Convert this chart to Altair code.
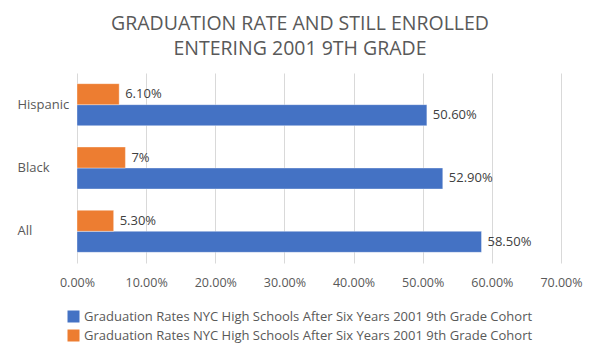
import altair as alt
import pandas as pd

# ---- data ----
groups = ["Hispanic", "Black", "All"]
grad_rate = [0.506, 0.529, 0.585]
still_enrolled = [0.061, 0.07, 0.053]
grad_labels = ["50.60%", "52.90%", "58.50%"]
still_labels = ["6.10%", "7%", "5.30%"]
series_name = "Graduation Rates NYC High Schools After Six Years 2001 9th Grade Cohort"
blue_key = series_name
orange_key = series_name + " "  # same visible text, distinct series
colors = ["#4472C4", "#ED7D31"]
title_lines = ["GRADUATION RATE AND STILL ENROLLED", "ENTERING 2001 9TH GRADE"]

rows = []
for g, v, l in zip(groups, grad_rate, grad_labels):
    rows.append({"group": g, "series": blue_key, "value": v, "label": l})
for g, v, l in zip(groups, still_enrolled, still_labels):
    rows.append({"group": g, "series": orange_key, "value": v, "label": l})
df = pd.DataFrame(rows)

FONT = "Open Sans"
GREY = "#595959"

y_enc = alt.Y("group:N", sort=groups,
              scale=alt.Scale(paddingInner=0.337, paddingOuter=0.1685),
              axis=alt.Axis(title=None, domain=False, ticks=False, labelAlign="left",
                            labelPadding=60, labelFontSize=13, labelColor=GREY,
                            labelFont=FONT))
yoff_enc = alt.YOffset("series:N", sort=[orange_key, blue_key],
                       scale=alt.Scale(paddingInner=0, paddingOuter=0))
x_enc = alt.X("value:Q",
              scale=alt.Scale(domain=[0, 0.7], nice=False),
              axis=alt.Axis(title=None, format=".2%", values=[0, 0.1, 0.2, 0.3, 0.4, 0.5, 0.6, 0.7],
                            grid=True, gridColor="#d9d9d9", domain=False, ticks=False,
                            labelFlush=False, labelAlign="center",
                            labelPadding=13, labelFontSize=12.5, labelColor=GREY, labelFont=FONT))

bars = alt.Chart(df).mark_bar(stroke="white", strokeWidth=0.6, strokeOpacity=0.6).encode(
    x=x_enc,
    y=y_enc,
    yOffset=yoff_enc,
    color=alt.Color("series:N", scale=alt.Scale(domain=[blue_key, orange_key], range=colors),
                    legend=alt.Legend(title=None, orient="none", legendX=-10, legendY=237,
                                      symbolType="square", symbolSize=144, symbolStrokeWidth=0,
                                      symbolOpacity=1, labelFontSize=13, labelColor=GREY,
                                      labelFont=FONT, labelOffset=4, rowPadding=5, padding=0,
                                      labelLimit=600)),
)

labels = alt.Chart(df).mark_text(align="left", baseline="middle", dx=6, fontSize=13,
                                 color="#404040", font=FONT).encode(
    x=alt.X("value:Q"),
    y=alt.Y("group:N", sort=groups),
    yOffset=alt.YOffset("series:N", sort=[orange_key, blue_key]),
    text="label:N",
)

chart = alt.layer(bars, labels).properties(
    width=484,
    height=190,
    autosize=alt.AutoSizeParams(type="none"),
    padding={"left": 69, "top": 65, "right": 31, "bottom": 90},
    title=alt.TitleParams(text=title_lines, fontSize=19.5, font=FONT, fontWeight="normal",
                          color=GREY, lineHeight=25, anchor="middle", dx=-19, offset=14),
).configure_view(stroke=None)

chart.save("out.html", embed_options={"renderer": "svg", "actions": False})
